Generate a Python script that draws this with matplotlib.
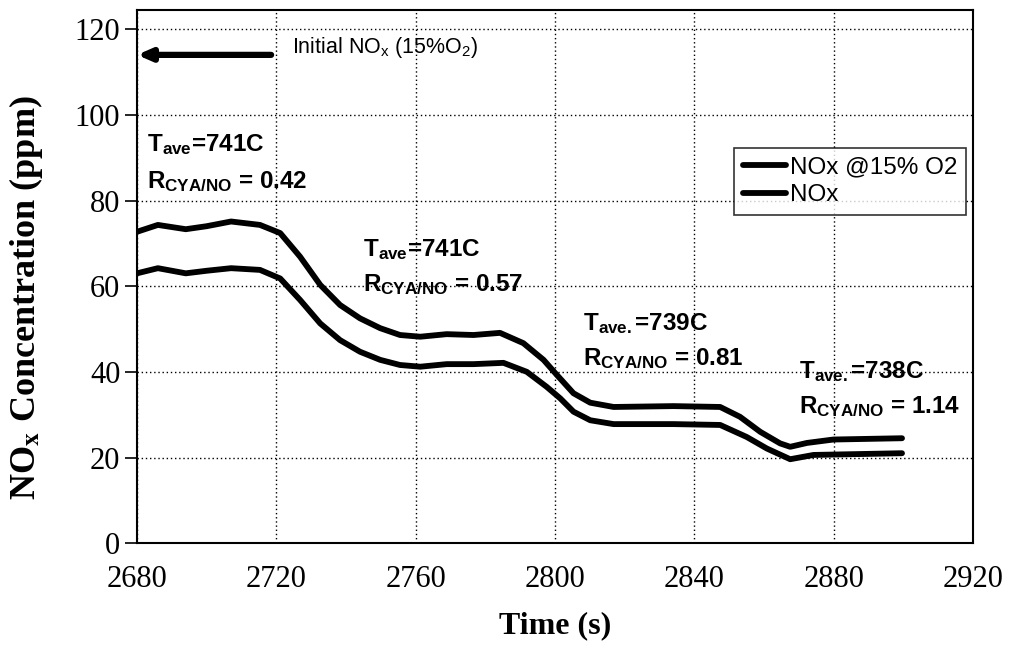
import matplotlib
matplotlib.use("Agg")
import matplotlib.pyplot as plt

plt.rcParams['mathtext.fontset'] = 'custom'
plt.rcParams['mathtext.rm'] = 'Liberation Sans'
plt.rcParams['mathtext.bf'] = 'Liberation Sans:bold'
plt.rcParams['mathtext.it'] = 'Liberation Sans:italic'

# NOx corrected to 15% O2
time_15 = [2680, 2686, 2694, 2700, 2707, 2715.3, 2721.1, 2726.8, 2732.6, 2738.3,
           2744.0, 2749.8, 2755.5, 2761.3, 2768.9, 2776.6, 2784.2, 2790.9, 2796.7,
           2800.5, 2805.3, 2810.1, 2816.8, 2834.0, 2847.4, 2853.1, 2858.9, 2864.6,
           2867.5, 2872.3, 2879.9, 2899.6]
nox_15 = [72.7, 74.3, 73.3, 74.0, 75.1, 74.3, 72.4, 66.9, 60.3, 55.6,
          52.5, 50.2, 48.6, 48.2, 48.8, 48.6, 49.1, 46.7, 42.8,
          39.3, 35.0, 32.8, 31.8, 32.0, 31.8, 29.5, 26.0, 23.3,
          22.5, 23.4, 24.2, 24.5]

# raw NOx
time_raw = [2680, 2686, 2694, 2700, 2707, 2715.3, 2721.1, 2726.8, 2732.6, 2738.3,
            2744.0, 2749.8, 2755.5, 2761.3, 2768.9, 2776.6, 2785.2, 2791.9, 2797.6,
            2801.5, 2805.3, 2810.1, 2816.8, 2834.0, 2847.4, 2855.0, 2860.8, 2867.5,
            2874.2, 2899.6]
nox_raw = [63.0, 64.2, 63.0, 63.6, 64.2, 63.8, 61.8, 56.8, 51.3, 47.4,
           44.7, 42.8, 41.6, 41.2, 41.8, 41.8, 42.1, 40.0, 36.5,
           33.8, 30.7, 28.7, 27.8, 27.8, 27.6, 24.8, 22.1, 19.6,
           20.6, 21.0]

# annotations: (time, value, text)
annot_t = [2683, 2683, 2745, 2745, 2808, 2808, 2870, 2870]
annot_v = [93, 84.5, 68.5, 60.3, 51.3, 43, 40, 32]
annot_txt = [r"T$_{\mathbf{ave}}$=741C", r"R$_{\mathbf{CYA/NO}}$ = 0.42",
             r"T$_{\mathbf{ave}}$=741C", r"R$_{\mathbf{CYA/NO}}$ = 0.57",
             r"T$_{\mathbf{ave.}}$=739C", r"R$_{\mathbf{CYA/NO}}$ = 0.81",
             r"T$_{\mathbf{ave.}}$=738C", r"R$_{\mathbf{CYA/NO}}$ = 1.14"]

fig = plt.figure(figsize=(10.11, 6.6), dpi=100)
ax = fig.add_axes([0.1355, 0.177, 0.827, 0.808])

ax.plot(time_15, nox_15, color="black", linewidth=4.2, label="NOx @15% O2",
        solid_capstyle="round", solid_joinstyle="round")
ax.plot(time_raw, nox_raw, color="black", linewidth=4.2, label="NOx",
        solid_capstyle="round", solid_joinstyle="round")

ax.set_xlim(2680, 2920)
ax.set_ylim(0, 124.5)
ax.set_xticks(range(2680, 2921, 40))
ax.set_yticks(range(0, 121, 20))
ax.grid(True, color="black", linestyle=(0, (1, 2)), linewidth=1.0)

for lab in ax.get_xticklabels() + ax.get_yticklabels():
    lab.set_fontfamily("Liberation Serif")
    lab.set_fontsize(22)
ax.tick_params(axis="y", direction="out", length=9, width=1.2, pad=3)
ax.tick_params(axis="x", direction="in", length=0, pad=16)
for s in ax.spines.values():
    s.set_linewidth(1.5)
    s.set_color("black")

ax.set_xlabel("Time (s)", fontfamily="Liberation Serif", fontweight="bold",
              fontsize=23, labelpad=12)
ax.set_ylabel(r"NO$_{\mathbf{x}}$ Concentration (ppm)", fontfamily="Liberation Serif",
              fontweight="bold", fontsize=26, math_fontfamily="stix")
ax.yaxis.set_label_coords(-0.11, 0.46)

for t, v, s in zip(annot_t, annot_v, annot_txt):
    ax.text(t, v, s, fontfamily="Liberation Sans", fontweight="bold", fontsize=17.5,
            ha="left", va="center")

ax.annotate("", xy=(2680, 114), xytext=(2718.5, 114),
            arrowprops=dict(arrowstyle="-|>,head_length=0.8,head_width=0.35",
                            color="black", lw=4.5, shrinkA=0, shrinkB=0))
ax.text(2724.5, 115.8, r"Initial NO$_\mathrm{x}$ (15%O$_\mathrm{2}$)",
        fontfamily="Liberation Sans", fontsize=15.5, ha="left", va="center")

leg = ax.legend(loc="upper right", bbox_to_anchor=(0.9555, 0.776),
                bbox_transform=fig.transFigure, fancybox=False, frameon=True,
                edgecolor="black", prop={"family": "Liberation Sans", "size": 17.5},
                handlelength=1.8, handletextpad=0.15, borderpad=0.35,
                borderaxespad=0, labelspacing=0.25)
leg.get_frame().set_linewidth(1.2)

fig.savefig("out.png", dpi=100)
